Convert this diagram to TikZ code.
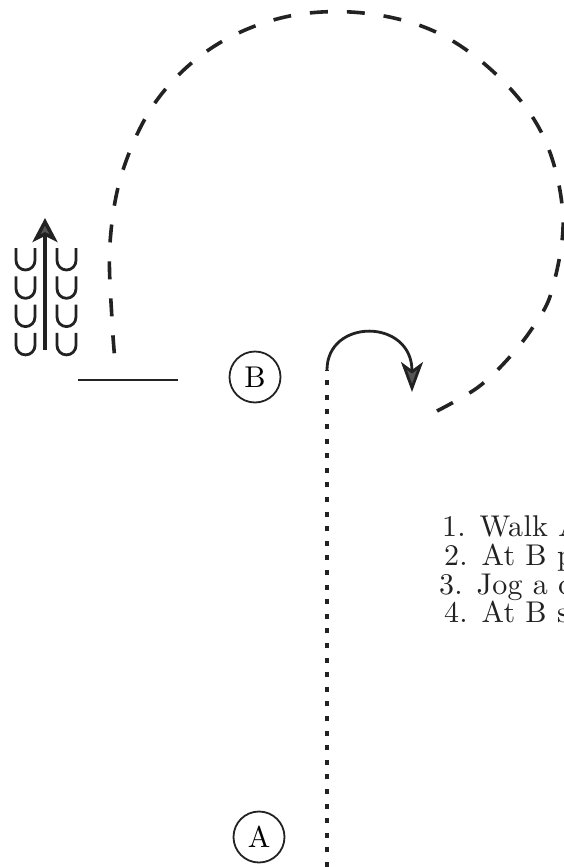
\documentclass[tikz,border=0pt]{standalone}
\usepackage{fontspec}
\usepackage{tikz}
\usetikzlibrary{arrows.meta}
\newfontfamily\stepfont{lmroman10-regular.otf}[LetterSpace=1]
\newfontfamily\markfont{lmroman10-regular.otf}
\definecolor{ink}{HTML}{222222}
\definecolor{tipgray}{HTML}{555555}

\begin{document}
\begin{tikzpicture}[x=1pt, y=-1pt]
        \tikzset{letter/.style={draw=ink, circle, line width=1.8pt, minimum size=51pt, inner sep=0pt,
                                font=\markfont\fontsize{30}{30}\selectfont},
                 course/.style={draw=ink, line width=3.6pt, dash pattern=on 18pt off 19pt},
                 trail/.style={draw=ink, line width=4pt, dash pattern=on 5pt off 9.6pt},
                 hoof/.style={draw=ink, line width=2.8pt},
                 instr/.style={anchor=base west, inner sep=0pt, text=ink,
                               font=\stepfont\fontsize{30}{30}\selectfont}}
        \useasboundingbox (0,0) rectangle (564,867);
        \clip (0,0) rectangle (564,867);
        \node [letter] (B) at (255,377){B};
        \node [letter] (A) at (259,837){A};
        \coordinate (bottom) at (327,867);
        \coordinate (turn)   at (327,370);
        \coordinate (tip)    at (412,392);
        \coordinate (loopstart) at (437,411);
        \coordinate (loopend)   at (116,372);
        \coordinate (lineL) at (78,380);
        \coordinate (lineR) at (178,380);
        \coordinate (herdtail) at (45,350);
        \coordinate (herdhead) at (45,218);
        % path A -> B, turn and loop
        \draw [trail] (bottom) -- (turn);
        \draw [draw=ink, line width=2.8pt, -{Stealth[fill=tipgray, length=30pt, width=22pt, inset=8pt]}]
              (turn) .. controls (327,318) and (412,318) .. (tip);
        \draw [course] plot [smooth, tension=0.6] coordinates {(loopstart) (477,388) (507,360) (533,327)
              (552,290) (563,217) (545,140) (502,80) (438,33) (363,13) (285,17) (213,47)
              (157,100) (123,170) (110,243) (112,320) (loopend)};
        \draw [draw=ink, line width=2.6pt] (lineL) -- (lineR);
        % cattle
        \foreach \row in {0,...,3}
            \foreach \col in {25.5,66.5}
                \draw [hoof] (\col-9.5, 248+28.3*\row) -- ++(0,12.5)
                      arc [start angle=180, end angle=0, radius=9.5] -- ++(0,-12.5);
        \draw [draw=ink, line width=3.5pt, -{Stealth[fill=tipgray, length=24pt, width=25pt, inset=6pt]}]
              (herdtail) -- (herdhead);
        % steps
        \node [instr] (s1) at (442,536){1. Walk A};
        \node [instr] (s2) at (444,565){2. At B p};
        \node [instr] (s3) at (439,594){3. Jog a c};
        \node [instr] (s4) at (444,622){4. At B s};
    \end{tikzpicture}
\end{document}
